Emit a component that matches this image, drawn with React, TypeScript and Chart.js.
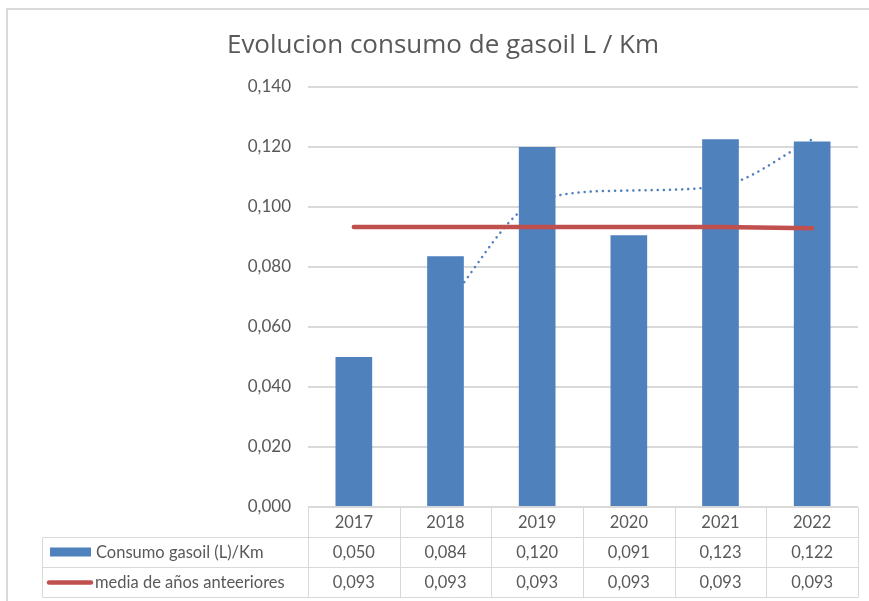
import { useEffect, useRef } from 'react';
import { Chart, registerables } from 'chart.js';

Chart.register(...registerables);

const titleText = 'Evolucion consumo de gasoil L / Km';
const categories = ['2017', '2018', '2019', '2020', '2021', '2022'];
const consumoLabel = 'Consumo gasoil (L)/Km';
const consumo = [0.05, 0.0836, 0.12, 0.0906, 0.1226, 0.1218];
const mediaLabel = 'media de años anteeriores';
const media = [0.0933, 0.0933, 0.0933, 0.0933, 0.0933, 0.0929];
const tendencia = [null, 0.067, 0.102, 0.1055, 0.107, 0.1225];
const yMin = 0;
const yMax = 0.14;
const yStep = 0.02;

const FONT = 'Lato, "Open Sans", sans-serif';
const TITLE_FONT = '"Open Sans", Lato, sans-serif';
const TEXT = '#595959';
const LINE = '#D9D9D9';
const BLUE = '#4F81BD';
const RED = '#C0504D';

const fmt = (v: number) => (Math.round(v * 1000) / 1000).toFixed(3).replace('.', ',');

const tablePlugin = {
  id: 'excelFrameTable',
  afterDraw(chart: any) {
    const ctx: CanvasRenderingContext2D = chart.ctx;
    const area = chart.chartArea;
    const xs = chart.scales.x;
    const n = categories.length;
    const colW = (area.right - area.left) / n;
    const rowH = 30;
    const top = Math.round(area.bottom) + 0.5;
    const labelLeft = 42.5;
    ctx.save();

    // chart frame
    ctx.strokeStyle = LINE;
    ctx.lineWidth = 2;
    ctx.beginPath();
    ctx.moveTo(7, chart.height);
    ctx.lineTo(7, 9);
    ctx.lineTo(chart.width, 9);
    ctx.stroke();

    // title
    ctx.fillStyle = TEXT;
    ctx.font = `26px ${TITLE_FONT}`;
    ctx.textAlign = 'center';
    ctx.textBaseline = 'alphabetic';
    ctx.fillText(titleText, 443, 53);

    // table grid
    ctx.strokeStyle = LINE;
    ctx.lineWidth = 1;
    ctx.beginPath();
    ctx.moveTo(area.left, top);
    ctx.lineTo(area.right, top);
    for (let r = 1; r <= 3; r++) {
      ctx.moveTo(labelLeft, top + r * rowH);
      ctx.lineTo(area.right, top + r * rowH);
    }
    for (let i = 0; i <= n; i++) {
      const xb = Math.round(area.left + i * colW) + 0.5;
      ctx.moveTo(xb, top);
      ctx.lineTo(xb, top + 3 * rowH);
    }
    ctx.moveTo(labelLeft, top + rowH);
    ctx.lineTo(labelLeft, top + 3 * rowH);
    ctx.stroke();

    // table text
    ctx.fillStyle = TEXT;
    ctx.font = `16.5px ${FONT}`;
    ctx.textAlign = 'center';
    ctx.textBaseline = 'middle';
    categories.forEach((c, i) => {
      const cx = xs.getPixelForValue(i);
      ctx.fillText(c, cx, top + rowH * 0.5);
      ctx.fillText(fmt(consumo[i]), cx, top + rowH * 1.5);
      ctx.fillText(fmt(media[i]), cx, top + rowH * 2.5);
    });
    ctx.textAlign = 'left';
    ctx.fillText(consumoLabel, 96, top + rowH * 1.5);
    ctx.fillText(mediaLabel, 95, top + rowH * 2.5);

    // legend keys
    ctx.fillStyle = BLUE;
    ctx.fillRect(50, top + rowH * 1.5 - 5, 41, 9);
    ctx.strokeStyle = RED;
    ctx.lineWidth = 4.5;
    ctx.lineCap = 'round';
    ctx.beginPath();
    ctx.moveTo(49, top + rowH * 2.5);
    ctx.lineTo(91, top + rowH * 2.5);
    ctx.stroke();

    ctx.restore();
  },
};

export default function App() {
  const ref = useRef<HTMLCanvasElement | null>(null);

  useEffect(() => {
    if (!ref.current) return;
    const chart = new Chart(ref.current, {
      type: 'bar',
      data: {
        labels: categories,
        datasets: [
          {
            type: 'line',
            label: mediaLabel,
            data: media,
            borderColor: RED,
            backgroundColor: RED,
            borderWidth: 4.5,
            borderCapStyle: 'round',
            pointRadius: 0,
            order: 1,
          } as any,
          {
            type: 'bar',
            label: consumoLabel,
            data: consumo,
            backgroundColor: BLUE,
            borderWidth: 0,
            barPercentage: 0.4,
            categoryPercentage: 1,
            order: 2,
          },
          {
            type: 'line',
            label: 'Media móvil',
            data: tendencia,
            borderColor: BLUE,
            borderWidth: 2.5,
            borderDash: [0.1, 6],
            borderCapStyle: 'round',
            cubicInterpolationMode: 'monotone',
            pointRadius: 0,
            order: 3,
          } as any,
        ],
      },
      options: {
        responsive: false,
        animation: false,
        layout: { padding: { top: 87, bottom: 94, left: 0, right: 11 } },
        plugins: {
          legend: { display: false },
          tooltip: { enabled: false },
          title: { display: false },
        },
        scales: {
          x: { display: false, offset: true },
          y: {
            min: yMin,
            max: yMax,
            afterFit: (s: any) => {
              s.width = 308;
            },
            border: { display: false },
            grid: { color: LINE, lineWidth: 2, drawTicks: false },
            ticks: {
              stepSize: yStep,
              padding: 17,
              color: TEXT,
              font: { family: FONT, size: 17 },
              callback: (v: any) => fmt(Number(v)),
            },
          },
        },
      },
      plugins: [tablePlugin],
    });
    return () => chart.destroy();
  }, []);

  return (
    <div style={{ position: 'fixed', left: 0, top: 0, width: 869, height: 601, background: '#fff' }}>
      <canvas ref={ref} width={869} height={601} />
    </div>
  );
}
